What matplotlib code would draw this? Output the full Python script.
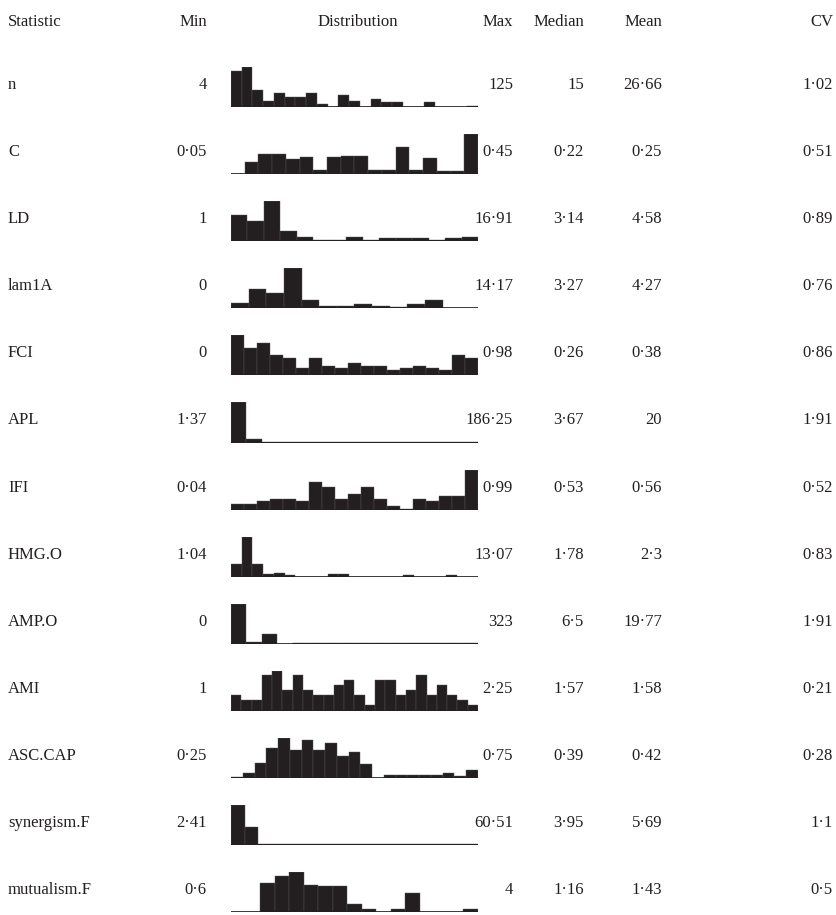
import matplotlib.pyplot as plt
import numpy as np

plt.rcParams['font.family'] = ['Liberation Serif', 'DejaVu Serif']

# Data
stats = ['n', 'C', 'LD', 'lam1A', 'FCI', 'APL', 'IFI', 'HMG.O', 'AMP.O',
         'AMI', 'ASC.CAP', 'synergism.F', 'mutualism.F']
mins = [4, 0.05, 1, 0, 0, 1.37, 0.04, 1.04, 0, 1, 0.25, 2.41, 0.6]
maxs = [125, 0.45, 16.91, 14.17, 0.98, 186.25, 0.99, 13.07, 323, 2.25, 0.75, 60.51, 4]
medians = [15, 0.22, 3.14, 3.27, 0.26, 3.67, 0.53, 1.78, 6.5, 1.57, 0.39, 3.95, 1.16]
means = [26.66, 0.25, 4.58, 4.27, 0.38, 20, 0.56, 2.3, 19.77, 1.58, 0.42, 5.69, 1.43]
cvs = [1.02, 0.51, 0.89, 0.76, 0.86, 1.91, 0.52, 0.83, 1.91, 0.21, 0.28, 1.1, 0.5]

hist_n = [105, 118, 50, 18, 40, 30, 30, 40, 10, 0, 35, 18, 0, 25, 14, 14, 0, 0, 14, 0, 0, 0, 2]
hist_C = [0, 12, 20, 20, 15, 17, 4, 17, 18, 18, 4, 4, 27, 4, 16, 3, 3, 40]
hist_LD = [26, 20, 39, 10, 4, 1, 1, 4, 1, 3, 3, 3, 1, 3, 4]
hist_lam1A = [5.7, 19, 15.7, 40, 8.3, 2.7, 2.7, 4, 2.7, 1.3, 4, 8.3, 0.3, 0.3]
hist_FCI = [40, 27, 32, 20, 17, 7, 17, 9.3, 7, 12, 9.3, 9.3, 5, 7, 9.3, 7, 5, 20, 17.7]
hist_APL = [40, 4, 1, 1, 1, 1, 1, 1, 1, 1, 1, 1, 1, 1, 1, 1]
hist_IFI = [6, 6, 8.3, 10.7, 10.7, 8.3, 28, 23, 10.7, 16, 23, 10.7, 3.3, 0.7, 10.7, 8.3, 13.3, 13.3, 40]
hist_HMG = [13, 40, 12.3, 2.3, 3.3, 1.3, 0, 0, 0, 2.3, 2.3, 0, 0, 0, 0, 0, 1.3, 0, 0, 0, 1.3, 0, 0]
hist_AMP = [38, 1.7, 9.3, 0, 1, 0.7, 0.7, 0.7, 0.7, 0.7, 0.7, 0.7, 0.7, 0.7, 0.7, 0.7]
hist_AMI = [15.7, 10.7, 10.7, 34.7, 39, 20, 34.7, 20, 15.7, 15.7, 25, 29.7, 15.7, 5.7,
            29.7, 29.7, 15.7, 20, 34.7, 15.7, 25, 15.7, 10.7, 5.7]
hist_ASC = [1, 5, 15, 30, 40, 28, 38, 28, 35, 22, 26, 14, 0, 3, 3, 3, 3, 3, 5, 2, 8]
hist_syn = [40, 18, 1, 1, 1, 1, 1, 1, 1, 1, 1, 1, 1, 1, 1, 1, 1, 1]
hist_mut = [0, 0, 28, 34, 38, 26, 25, 25, 8, 3, 0, 3, 18, 0, 0, 0, 3]
hists = [hist_n, hist_C, hist_LD, hist_lam1A, hist_FCI, hist_APL, hist_IFI,
         hist_HMG, hist_AMP, hist_AMI, hist_ASC, hist_syn, hist_mut]

W, H = 837, 915
fig = plt.figure(figsize=(W / 100, H / 100), dpi=100)


def fmt(v):
    return f'{v:g}'.replace('.', '\u00b7')


def px(x, y):
    return x / W, 1 - y / H


ink = '#231f20'
fs = 12
header_y = 22
row0 = 85
step = 67.1

# header
fig.text(*px(8, header_y), 'Statistic', ha='left', va='center', fontsize=fs, color=ink)
fig.text(*px(207, header_y), 'Min', ha='right', va='center', fontsize=fs, color=ink)
fig.text(*px(358, header_y), 'Distribution', ha='center', va='center', fontsize=fs, color=ink)
fig.text(*px(513, header_y), 'Max', ha='right', va='center', fontsize=fs, color=ink)
fig.text(*px(584, header_y), 'Median', ha='right', va='center', fontsize=fs, color=ink)
fig.text(*px(662, header_y), 'Mean', ha='right', va='center', fontsize=fs, color=ink)
fig.text(*px(833, header_y), 'CV', ha='right', va='center', fontsize=fs, color=ink)

for i, stat in enumerate(stats):
    y = row0 + i * step
    fig.text(*px(8, y), stat, ha='left', va='center', fontsize=fs, color=ink)
    fig.text(*px(207, y), fmt(mins[i]), ha='right', va='center', fontsize=fs, color=ink)
    fig.text(*px(513, y), fmt(maxs[i]), ha='right', va='center', fontsize=fs, color=ink)
    fig.text(*px(584, y), fmt(medians[i]), ha='right', va='center', fontsize=fs, color=ink)
    fig.text(*px(662, y), fmt(means[i]), ha='right', va='center', fontsize=fs, color=ink)
    fig.text(*px(833, y), fmt(cvs[i]), ha='right', va='center', fontsize=fs, color=ink)

    # sparkline histogram
    base = y + 22
    l, b = px(231, base)
    ax = fig.add_axes([l, b, 247 / W, 40 / H])
    h = np.array(hists[i], dtype=float)
    ax.bar(np.arange(len(h)), h, width=1.0, align='edge', color=ink,
           edgecolor='#555555', linewidth=0.3)
    ax.axhline(0, color=ink, lw=1.2)
    ax.set_xlim(0, len(h))
    ax.set_ylim(0, h.max())
    ax.axis('off')

fig.savefig('out.png', dpi=100)
